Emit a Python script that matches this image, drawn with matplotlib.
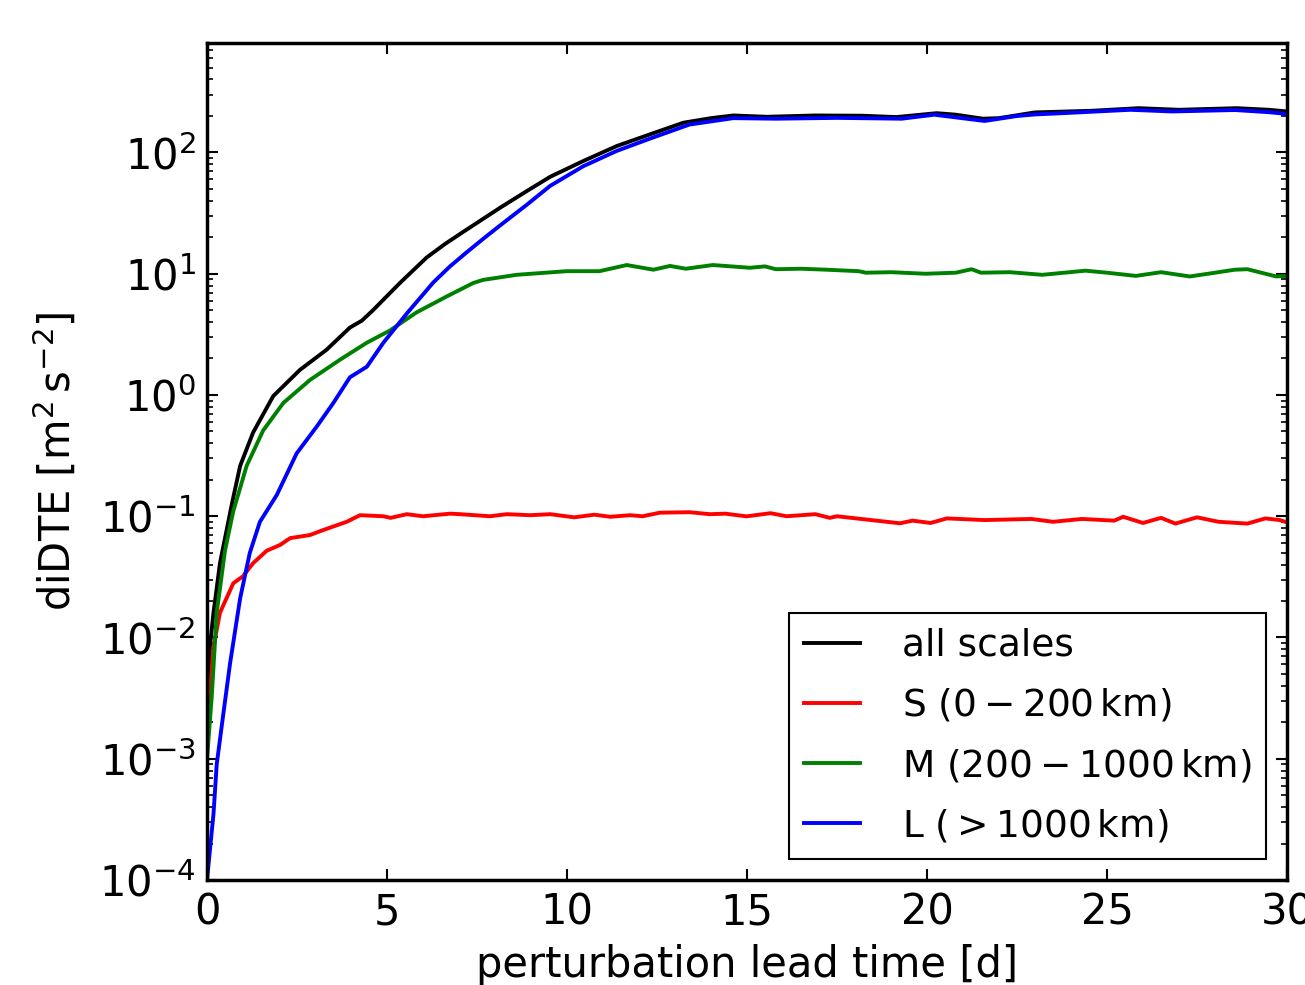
import matplotlib
matplotlib.use("Agg")
import matplotlib.pyplot as plt

plt.rcParams['font.family'] = ['DejaVu Sans']
plt.rcParams['mathtext.fontset'] = 'dejavusans'
plt.rcParams['font.size'] = 30

# ---- data ----
t_all = [0, 0.08, 0.18, 0.36, 0.7, 0.92, 1.28, 1.84, 2.58, 3.32, 3.97, 4.3, 4.61,
         5.36, 6.10, 6.6, 7.03, 7.68, 8.14, 8.88, 9.53, 10.45, 11.38, 12.3, 13.23,
         14.0, 14.62, 15.55, 16.9, 18.2, 19.15, 20.27, 20.8, 21.55, 22.0, 22.99,
         24.6, 25.88, 27.0, 28.6, 29.5, 30.0]
v_all = [0.0012, 0.0083, 0.016, 0.041, 0.13, 0.26, 0.49, 0.98, 1.61, 2.36, 3.6, 4.1, 5.0,
         8.4, 13.6, 17.5, 21.3, 28.5, 35, 48, 63, 85, 113, 141, 176,
         192, 202, 197, 202, 201, 196, 211, 205, 190, 192, 214,
         221, 232, 225, 232, 225, 218]

t_s = [0, 0.08, 0.18, 0.36, 0.73, 1.0, 1.28, 1.66, 2.03, 2.31, 2.86, 3.23, 3.88,
       4.25, 4.9, 5.1, 5.55, 6.0, 6.75, 7.03, 7.86, 8.33, 8.98, 9.53, 10.2, 10.76,
       11.2, 11.75, 12.1, 12.58, 13.4, 13.97, 14.4, 14.99, 15.65, 16.1, 16.9, 17.3,
       17.5, 18.1, 19.25, 19.6, 20.1, 20.55, 21.6, 22.9, 23.5, 24.3, 25.2, 25.45,
       26.0, 26.5, 26.9, 27.5, 28.1, 28.9, 29.4, 29.8, 30.0]
v_s = [0.0015, 0.0034, 0.0083, 0.016, 0.028, 0.032, 0.041, 0.052, 0.058, 0.066, 0.070,
       0.077, 0.090, 0.102, 0.100, 0.097, 0.104, 0.100, 0.105, 0.104, 0.100, 0.104,
       0.102, 0.104, 0.098, 0.103, 0.099, 0.102, 0.100, 0.107, 0.108, 0.104, 0.105,
       0.0998, 0.106, 0.100, 0.104, 0.097, 0.100, 0.0955, 0.0875, 0.092, 0.088,
       0.096, 0.093, 0.095, 0.090, 0.095, 0.092, 0.099, 0.088, 0.097, 0.087, 0.098,
       0.090, 0.087, 0.096, 0.093, 0.089]

t_m = [0, 0.13, 0.27, 0.5, 0.73, 1.10, 1.56, 2.12, 2.86, 3.69, 4.44, 5.08, 5.82,
       6.66, 7.4, 7.67, 8.6, 9.99, 10.9, 11.66, 12.4, 12.86, 13.3, 14.05, 15.08,
       15.5, 15.8, 16.5, 17.2, 18.1, 18.3, 19.0, 19.96, 20.8, 21.24, 21.5, 22.3,
       23.2, 24.4, 25.0, 25.8, 26.5, 27.3, 28.0, 28.55, 28.9, 29.7, 30.0]
v_m = [0.001, 0.0032, 0.016, 0.052, 0.11, 0.26, 0.51, 0.86, 1.33, 1.95, 2.7, 3.4, 4.8,
       6.5, 8.4, 8.9, 9.8, 10.5, 10.5, 11.8, 10.8, 11.6, 11.0, 11.8, 11.2,
       11.5, 10.9, 11.0, 10.8, 10.5, 10.2, 10.3, 10.0, 10.2, 10.9, 10.2, 10.3,
       9.8, 10.6, 10.2, 9.6, 10.3, 9.5, 10.2, 10.8, 10.9, 9.5, 9.6]

t_l = [0, 0.18, 0.27, 0.45, 0.64, 0.92, 1.19, 1.47, 1.94, 2.49, 3.05, 3.51, 3.97,
       4.44, 4.90, 5.55, 6.29, 6.75, 7.21, 7.68, 8.14, 8.88, 9.53, 10.45, 11.38,
       12.3, 13.4, 14.62, 15.8, 17.5, 19.3, 20.2, 21.6, 22.5, 23.0, 23.9, 25.65,
       26.8, 28.55, 29.5, 30.0]
v_l = [1e-4, 3.5e-4, 9e-4, 0.0023, 0.0061, 0.021, 0.05, 0.09, 0.15, 0.33, 0.55, 0.86,
       1.4, 1.71, 2.7, 4.7, 8.5, 11.5, 15.0, 19.5, 25, 37, 53, 77, 103,
       130, 170, 192, 190, 193, 190, 205, 182, 200, 206, 212, 225,
       218, 224, 215, 208]

labels = ['all scales', r'S $(0-200\,\mathrm{km})$',
          r'M $(200-1000\,\mathrm{km})$', r'L $( > 1000\,\mathrm{km})$']
colors = ['k', 'r', 'g', 'b']

fig = plt.figure(figsize=(13.05, 9.85), dpi=100)
ax = fig.add_axes([207/1305, 105/985, 1080/1305, 837/985])

for (t, v), lab, c in zip([(t_all, v_all), (t_s, v_s), (t_m, v_m), (t_l, v_l)],
                          labels, colors):
    ax.plot(t, v, color=c, lw=2.8, label=lab)

ax.set_yscale('log')
ax.set_xlim(0, 30)
ax.set_ylim(1e-4, 800)
ax.set_xticks([0, 5, 10, 15, 20, 25, 30])

for s in ax.spines.values():
    s.set_linewidth(2.5)
ax.tick_params(which='both', direction='in', top=True, right=True)
ax.tick_params(which='major', length=8, width=1.5, pad=8, labelsize=30)
ax.tick_params(which='minor', length=4, width=1.2)

ax.set_xlabel('perturbation lead time [d]', fontsize=30, labelpad=8)
ax.set_ylabel(r'diDTE [m$^2\,$s$^{-2}$]', fontsize=30, labelpad=14)

leg = ax.legend(loc='lower right', fontsize=27, fancybox=False, framealpha=1,
                edgecolor='k', handlelength=1.5, handletextpad=1.1,
                borderaxespad=0.55, labelspacing=0.62)
leg.get_frame().set_linewidth(1.5)

fig.savefig('out.png', dpi=100)
